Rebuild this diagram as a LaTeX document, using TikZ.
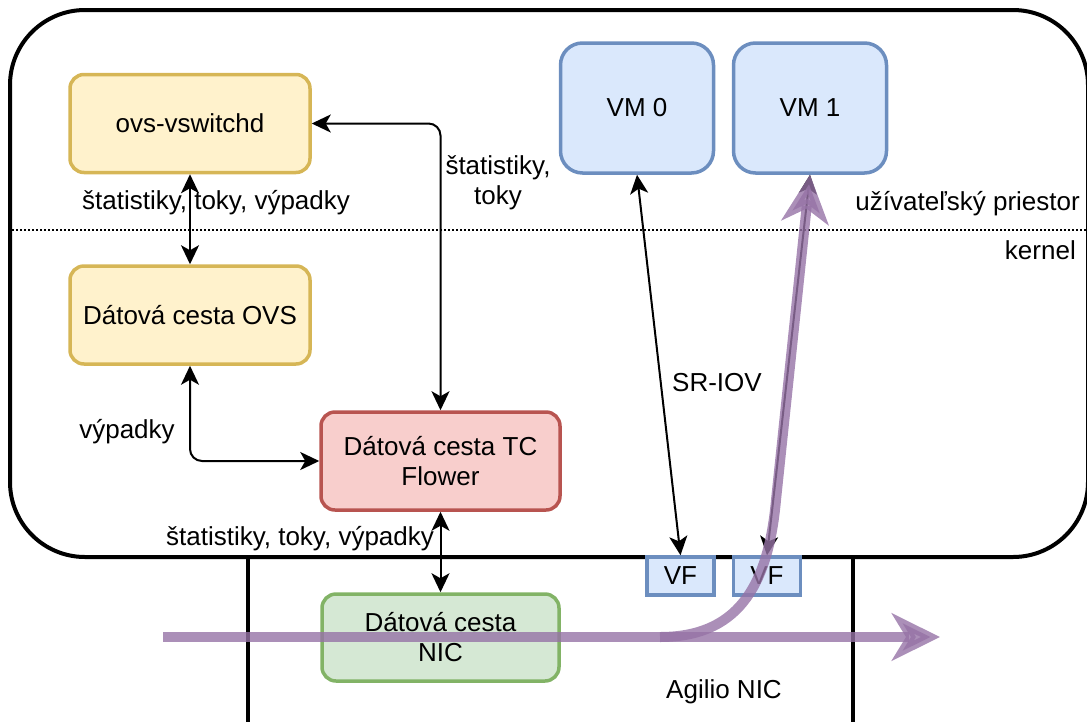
\documentclass[tikz,border=0pt]{standalone}
\usepackage{fontspec}
\setmainfont{Liberation Sans}
\usetikzlibrary{arrows.meta}

\definecolor{ylwfill}{HTML}{FFF2CC}
\definecolor{ylwdraw}{HTML}{D6B656}
\definecolor{redfill}{HTML}{F8CECC}
\definecolor{reddraw}{HTML}{B85450}
\definecolor{grnfill}{HTML}{D5E8D4}
\definecolor{grndraw}{HTML}{82B366}
\definecolor{blufill}{HTML}{DAE8FC}
\definecolor{bludraw}{HTML}{6C8EBF}
\definecolor{flowcol}{HTML}{9673A6}

\tikzset{
  txt/.style={font=\fontsize{26}{30}\selectfont, inner sep=0pt, align=center},
  box/.style={txt, draw, line width=3.5pt, rounded corners=14pt},
  ylwbox/.style={box, fill=ylwfill, draw=ylwdraw, minimum width=240pt, minimum height=98pt},
  redbox/.style={box, fill=redfill, draw=reddraw, minimum width=239pt, minimum height=98pt},
  grnbox/.style={box, fill=grnfill, draw=grndraw, minimum width=237pt, minimum height=87pt},
  vmbox/.style={box, fill=blufill, draw=bludraw, rounded corners=22pt, minimum width=153pt, minimum height=130pt},
  vfbox/.style={txt, draw=bludraw, fill=blufill, line width=3.5pt, minimum width=67pt, minimum height=38pt},
  conn/.style={line width=2pt, {Stealth[length=19pt,width=18pt,inset=5pt]}-{Stealth[length=19pt,width=18pt,inset=5pt]}},
  flow/.style={draw=flowcol, draw opacity=0.8, fill opacity=0.8, line width=10pt,
    -{Stealth[length=48pt,width=47pt,inset=14pt,fill=flowcol]}},
}

\begin{document}
\begin{tikzpicture}[x=1pt,y=-1pt]
  \useasboundingbox (0,0) rectangle (1087,721);

  % host outline and the NIC card below it
  \node[draw, line width=4pt, rounded corners=75pt, minimum width=1078pt, minimum height=547pt, inner sep=0pt] (host) at (549,283.5) {};
  \node[draw, line width=4pt, minimum width=605pt, minimum height=183pt, inner sep=0pt] (nic) at (550.5,648.5) {};

  % user space / kernel separator
  \coordinate (sepL) at (12,230);
  \coordinate (sepR) at (1087,230);
  \draw[line width=1.5pt, dash pattern=on 2pt off 2pt] (sepL) -- (sepR);
  \node[txt, anchor=east] (lblUser) at (1080,204) {užívateľský priestor};
  \node[txt, anchor=east] (lblKernel) at (1076,250) {kernel};

  % components
  \node[ylwbox] (ovsd) at (190,123.5) {ovs-vswitchd};
  \node[ylwbox] (ovsdp) at (190,315) {Dátová cesta OVS};
  \node[redbox] (tc) at (440.5,461) {Dátová cesta TC\\Flower};
  \node[grnbox] (nicdp) at (440.5,637.5) {Dátová cesta\\NIC};
  \node[vmbox] (vm0) at (637,108) {VM 0};
  \node[vmbox] (vm1) at (810,108) {VM 1};
  \node[vfbox] (vf0) at (680.5,576) {VF};
  \node[vfbox] (vf1) at (767,576) {VF};
  \node[txt] (lblNic) at (724,692) {Agilio NIC};

  % control connections
  \draw[conn] (ovsd.south) -- (ovsdp.north);
  \node[txt] (lblTop) at (216,203) {štatistiky, toky, výpadky};
  \draw[conn, rounded corners=12pt] (ovsd.east) -| (tc.north);
  \node[txt] (lblRight) at (498,183) {štatistiky,\\toky};
  \draw[conn, rounded corners=12pt] (ovsdp.south) |- (tc.west);
  \node[txt] (lblMiss) at (127,432) {výpadky};
  \draw[conn] (tc.south) -- (nicdp.north);
  \node[txt] (lblBottom) at (300,539) {štatistiky, toky, výpadky};
  \draw[conn] (vm0.south) -- (vf0.north);
  \node[txt] (lblSriov) at (717,383) {SR-IOV};
  \draw[conn] (vm1.south) -- (vf1.north);

  % packet flows
  \coordinate (flowIn) at (163,637);
  \coordinate (flowOut) at (940,637);
  \coordinate (fork) at (660,637);
  \draw[flow] (flowIn) -- (flowOut);
  \draw[flow] (fork) .. controls (735,637) and (768,590) .. (776,500) -- (vm1.south);
\end{tikzpicture}
\end{document}
